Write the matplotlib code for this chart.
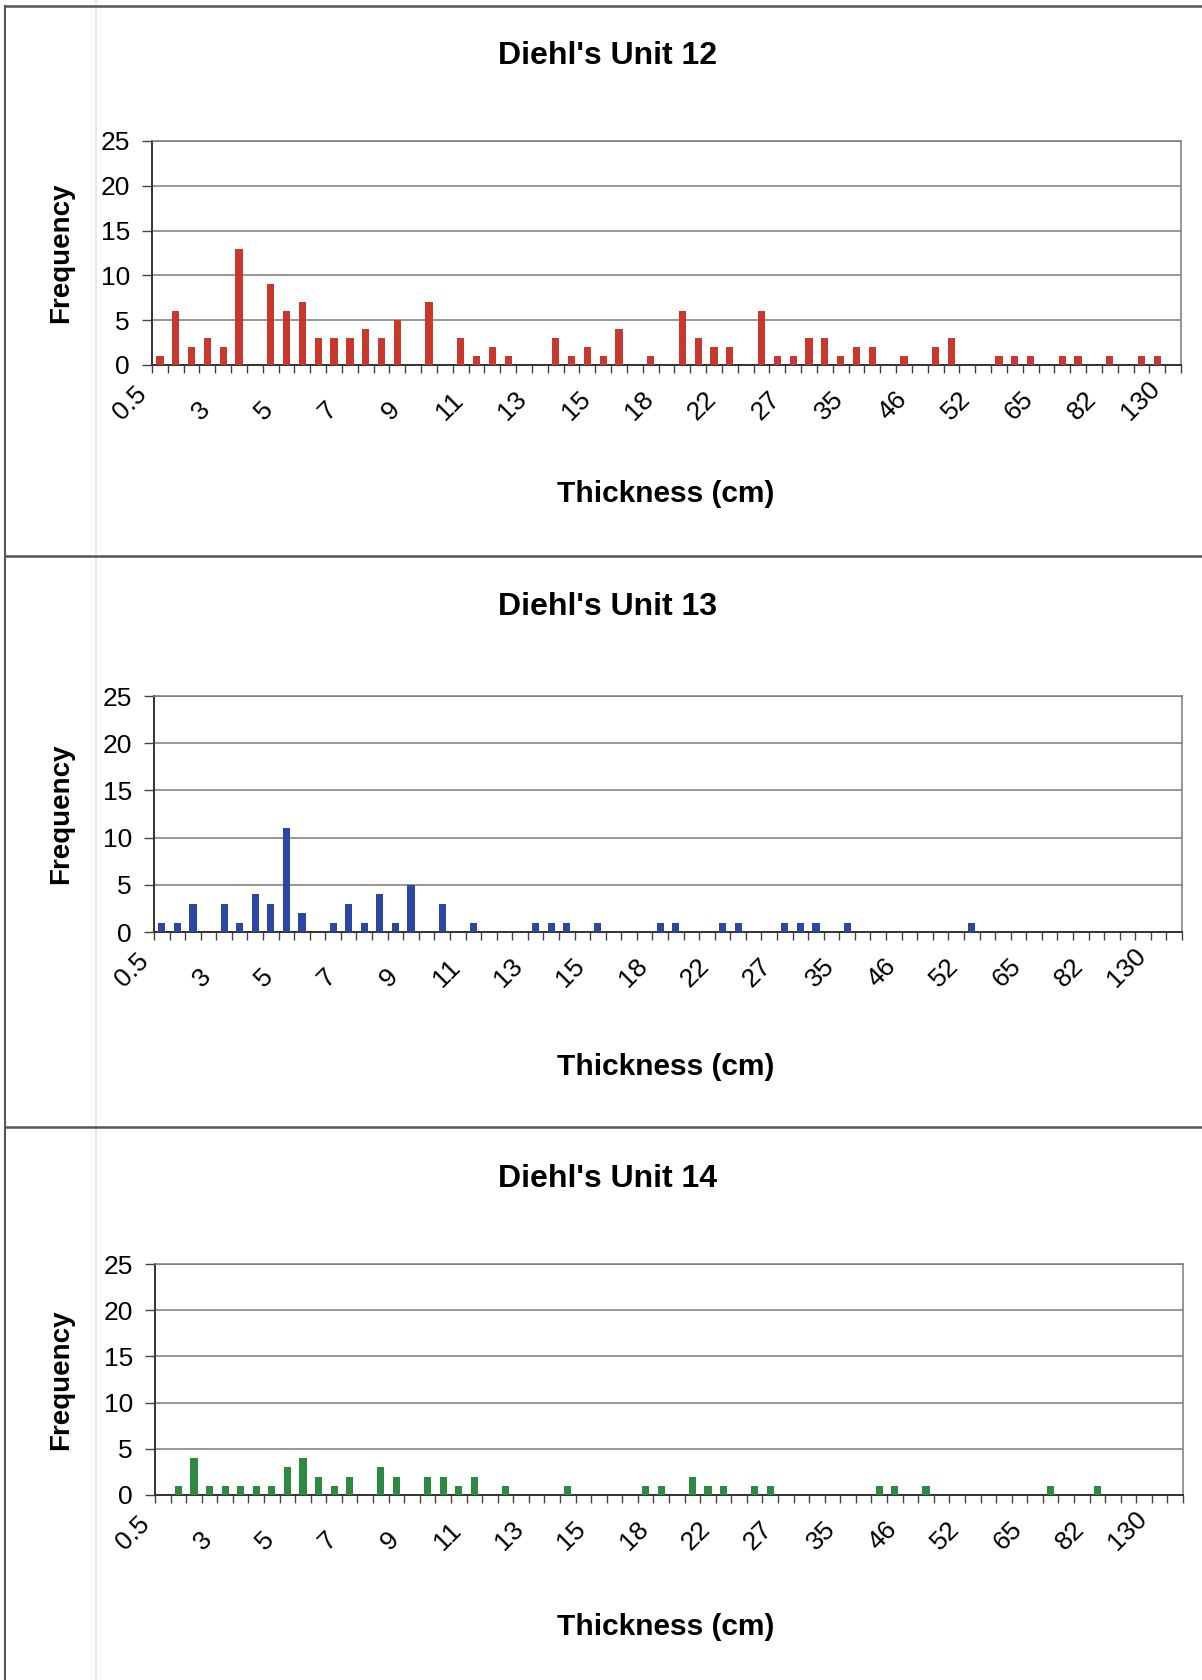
import numpy as np
import matplotlib
matplotlib.use("Agg")
import matplotlib.pyplot as plt
from matplotlib.lines import Line2D
from matplotlib.transforms import ScaledTranslation

plt.rcParams["font.family"] = ["Liberation Sans", "DejaVu Sans"]

# ── data: frequency per thickness class (labels shown every 4th class) ──────
TICK_LABELS = ["0.5", "3", "5", "7", "9", "11", "13", "15", "18", "22",
               "27", "35", "46", "52", "65", "82", "130"]
LABEL_EVERY = 4

unit12 = [1, 6, 2, 3, 2, 13, 0, 9, 6, 7, 3, 3, 3, 4, 3, 5, 0, 7, 0, 3, 1, 2,
          1, 0, 0, 3, 1, 2, 1, 4, 0, 1, 0, 6, 3, 2, 2, 0, 6, 1, 1, 3, 3, 1,
          2, 2, 0, 1, 0, 2, 3, 0, 0, 1, 1, 1, 0, 1, 1, 0, 1, 0, 1, 1, 0]
unit13 = [1, 1, 3, 0, 3, 1, 4, 3, 11, 2, 0, 1, 3, 1, 4, 1, 5, 0, 3, 0, 1, 0,
          0, 0, 1, 1, 1, 0, 1, 0, 0, 0, 1, 1, 0, 0, 1, 1, 0, 0, 1, 1, 1, 0,
          1, 0, 0, 0, 0, 0, 0, 0, 1, 0, 0, 0, 0, 0, 0, 0, 0, 0, 0, 0, 0, 0]
unit14 = [0, 1, 4, 1, 1, 1, 1, 1, 3, 4, 2, 1, 2, 0, 3, 2, 0, 2, 2, 1, 2, 0,
          1, 0, 0, 0, 1, 0, 0, 0, 0, 1, 1, 0, 2, 1, 1, 0, 1, 1, 0, 0, 0, 0,
          0, 0, 1, 1, 0, 1, 0, 0, 0, 0, 0, 0, 0, 1, 0, 0, 1, 0, 0, 0, 0, 0]

TITLES = ["Diehl's Unit 12", "Diehl's Unit 13", "Diehl's Unit 14"]
SERIES = [unit12, unit13, unit14]
COLORS = ["#c8382c", "#2c46a6", "#2e8a3e"]

# ── layout (pixels on the 1202 x 1680 page) ─────────────────────────────────
W, H = 1202, 1680
#          x0    x1    y_top y_zero title_y  xlabel_y
PLOTS = [(152, 1181, 141, 365, 56, 494),
         (154, 1182, 696, 932, 607, 1067),
         (155, 1183, 1264, 1495, 1179, 1627)]

fig = plt.figure(figsize=(W / 100, H / 100), dpi=100)
fig.patch.set_facecolor("white")


def fx(x):
    return x / W


def fy(y):
    return 1 - y / H


# page frame + panel separators
FRAME = "#555555"
fig.add_artist(Line2D([fx(96), fx(96)], [0, 1], color="#e4e4e4", lw=1.2))
fig.add_artist(Line2D([fx(5), 1], [fy(6), fy(6)], color=FRAME, lw=1.8))
fig.add_artist(Line2D([fx(5), fx(5)], [0, fy(6)], color=FRAME, lw=1.5))
for ysep in (556, 1127):
    fig.add_artist(Line2D([fx(5), 1], [fy(ysep), fy(ysep)], color=FRAME, lw=1.8))

# Excel puts the rotated labels' bounding box right edge just left of the
# category centre and bottom-aligns them, so short labels sit lower
label_shift = ScaledTranslation(-6 / 72, 0, fig.dpi_scale_trans)

for title, vals, color, (x0, x1, yt, yz, ty, ly) in zip(TITLES, SERIES, COLORS, PLOTS):
    n = len(vals)
    ax = fig.add_axes([fx(x0), fy(yz), (x1 - x0) / W, (yz - yt) / H])
    ax.set_facecolor("white")
    ax.bar(np.arange(n), vals, width=0.46, color=color, zorder=3)

    ax.set_xlim(-0.5, n - 0.5)
    ax.set_ylim(0, 25)
    ax.set_yticks(range(0, 26, 5))
    ax.grid(axis="y", color="#7a7a7a", lw=1.1, zorder=0)

    # category boundaries get tick marks, every 4th centre gets a label
    ax.set_xticks(np.arange(n + 1) - 0.5, minor=True)
    ax.set_xticks(np.arange(0, n, LABEL_EVERY)[:len(TICK_LABELS)])
    ax.set_xticklabels(TICK_LABELS, rotation=45, ha="right", va="bottom",
                       fontsize=19)
    ax.tick_params(axis="x", which="major", length=0, pad=43)
    ax.tick_params(axis="x", which="minor", length=6, width=1, color="#444444")
    ax.tick_params(axis="y", length=7, width=1, color="#444444", pad=9,
                   labelsize=19)
    # shift after tick_params, which resets the label transforms
    for lbl in ax.get_xticklabels():
        lbl.set_transform(lbl.get_transform() + label_shift)

    for side in ("left", "bottom"):
        ax.spines[side].set_color("#333333")
        ax.spines[side].set_linewidth(1.4)
    for side in ("top", "right"):
        ax.spines[side].set_color("#7a7a7a")
        ax.spines[side].set_linewidth(1.1)

    # texts placed on the page like the original chart objects
    fig.text(fx(607), fy(ty), title, ha="center", va="center",
             fontsize=23, fontweight="bold")
    fig.text(fx(61), fy((yt + yz) / 2), "Frequency", rotation=90,
             ha="center", va="center", fontsize=20, fontweight="bold")
    fig.text(fx(666), fy(ly), "Thickness (cm)", ha="center", va="center",
             fontsize=21.5, fontweight="bold")

fig.savefig("out.png", dpi=100)
